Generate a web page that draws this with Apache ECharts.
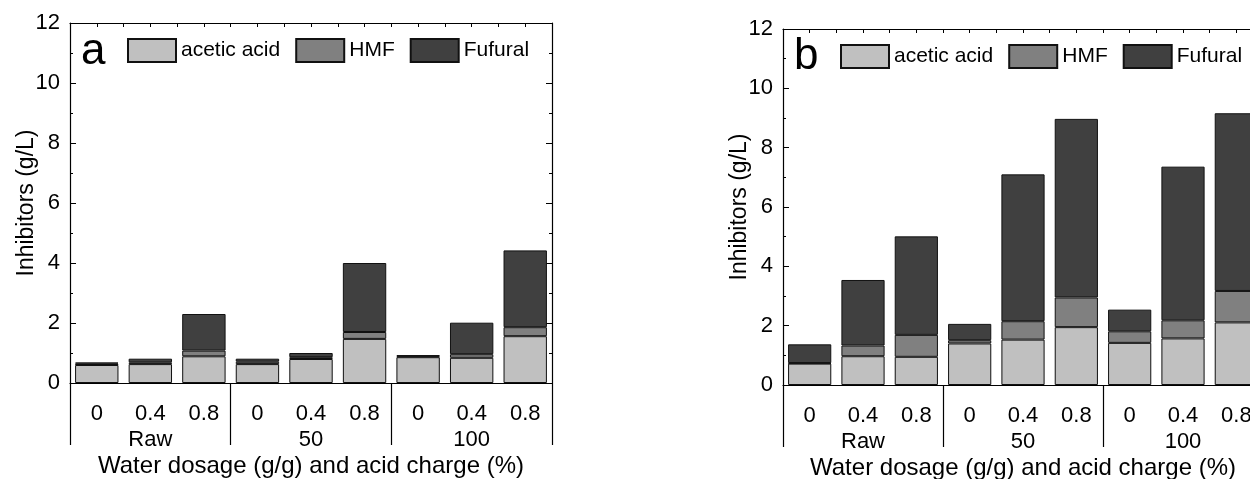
<!DOCTYPE html>
<html>
<head>
<meta charset="utf-8">
<script src="https://cdn.jsdelivr.net/npm/echarts@6/dist/echarts.min.js"></script>
<style>
  html, body { margin: 0; padding: 0; background: #fff; }
  #main { width: 1250px; height: 479px; }
</style>
</head>
<body>
<div id="main"></div>
<script>
// category labels (acid charge %) and groups (water dosage)
var tickLabels = ['0', '0.4', '0.8', '0', '0.4', '0.8', '0', '0.4', '0.8'];
var groupLabels = ['Raw', '50', '100'];
var yTicks = [0, 12, 2];

// panel a (g/L)
var aceticA = [0.60, 0.63, 0.89, 0.63, 0.80, 1.47, 0.86, 0.84, 1.56];
var hmfA = [0.05, 0.06, 0.19, 0.08, 0.06, 0.23, 0.03, 0.12, 0.30];
var fufuralA = [0.03, 0.12, 1.22, 0.10, 0.14, 2.30, 0.04, 1.05, 2.56];

// panel b (g/L)
var aceticB = [0.72, 0.97, 0.95, 1.40, 1.53, 1.95, 1.42, 1.57, 2.11];
var hmfB = [0.02, 0.36, 0.74, 0.11, 0.62, 1.00, 0.39, 0.61, 1.06];
var fufuralB = [0.63, 2.21, 3.32, 0.55, 4.95, 6.02, 0.73, 5.18, 5.99];

var FONT = 'Liberation Sans, Arial, sans-serif';
var colors = ['#c0c0c0', '#808080', '#404040'];
var names = ['acetic acid', 'HMF', 'Fufural'];

var myChart = echarts.init(document.getElementById('main'));

// panel b runs past the right edge of the picture, as in the original
var grids = [
  { left: 70, top: 23, width: 482, height: 360, outerBoundsMode: 'none', containLabel: false },
  { left: 783, top: 29, width: 480, height: 356, outerBoundsMode: 'none', containLabel: false }
];

function axesFor(g) {
  var xs = [
    // main category axis
    {
      gridIndex: g, type: 'category', position: 'bottom', data: tickLabels,
      axisLine: { lineStyle: { color: '#000', width: 1.2 } },
      axisTick: { alignWithLabel: true, inside: false, length: 6, lineStyle: { color: '#000' } },
      axisLabel: { color: '#000', fontSize: 22, fontFamily: FONT, margin: 20, interval: 0 }
    },
    // group axis with separators
    {
      gridIndex: g, type: 'category', position: 'bottom', data: groupLabels,
      axisLine: { show: false },
      axisTick: { show: true, inside: false, length: 62, interval: 0, lineStyle: { color: '#000', width: 1.2 } },
      axisLabel: { color: '#000', fontSize: 22, fontFamily: FONT, margin: 46, interval: 0 },
      name: 'Water dosage (g/g) and acid charge (%)', nameLocation: 'middle', nameGap: 71,
      nameMoveOverlap: false,
      nameTextStyle: { color: '#000', fontSize: 24, fontFamily: FONT }
    },
    // top frame with small ticks
    {
      gridIndex: g, type: 'value', position: 'top', min: 0, max: 9, interval: 0.5,
      axisLine: { show: true, lineStyle: { color: '#000', width: 1.2 } },
      axisTick: { show: true, inside: true, length: 4, lineStyle: { color: '#000' } },
      axisLabel: { show: false }, splitLine: { show: false }
    }
  ];
  var ys = [
    {
      gridIndex: g, type: 'value', position: 'left', min: yTicks[0], max: yTicks[1], interval: yTicks[2],
      axisLine: { show: true, lineStyle: { color: '#000', width: 1.2 } },
      axisTick: { show: true, inside: true, length: 6, lineStyle: { color: '#000' } },
      minorTick: { show: true, splitNumber: 2, length: 3, lineStyle: { color: '#000' } },
      axisLabel: { color: '#000', fontSize: 22, fontFamily: FONT, margin: 10 },
      splitLine: { show: false },
      name: 'Inhibitors (g/L)', nameLocation: 'middle', nameGap: 32,
      nameMoveOverlap: false,
      nameTextStyle: { color: '#000', fontSize: 23, fontFamily: FONT }
    },
    {
      gridIndex: g, type: 'value', position: 'right', min: yTicks[0], max: yTicks[1], interval: yTicks[2],
      axisLine: { show: true, lineStyle: { color: '#000', width: 1.2 } },
      axisTick: { show: true, inside: true, length: 6, lineStyle: { color: '#000' } },
      minorTick: { show: true, splitNumber: 2, length: 3, lineStyle: { color: '#000' } },
      axisLabel: { show: false }, splitLine: { show: false }
    }
  ];
  return { xs: xs, ys: ys };
}

var ax0 = axesFor(0), ax1 = axesFor(1);

function seriesFor(g, arrs) {
  return arrs.map(function (d, i) {
    return {
      name: names[i], type: 'bar', stack: 'p' + g,
      xAxisIndex: g * 3, yAxisIndex: g * 2,
      barWidth: '81%', data: d,
      itemStyle: { color: colors[i], borderColor: '#111', borderWidth: 1 },
      emphasis: { disabled: true }
    };
  });
}

function legendFor(left, top) {
  return {
    left: left, top: top, width: 460, itemWidth: 48, itemHeight: 23, itemGap: 15,
    orient: 'horizontal', icon: 'rect', selectedMode: false, padding: 0,
    textStyle: { color: '#000', fontSize: 21, fontFamily: FONT },
    data: names
  };
}

var option = {
  animation: false,
  backgroundColor: '#fff',
  title: [
    { text: 'a', left: 81, top: 30, padding: 0, textStyle: { fontSize: 44, fontWeight: 'normal', color: '#000', fontFamily: FONT } },
    { text: 'b', left: 794, top: 35, padding: 0, textStyle: { fontSize: 44, fontWeight: 'normal', color: '#000', fontFamily: FONT } }
  ],
  legend: [legendFor(127, 38), legendFor(840, 44)],
  grid: grids,
  xAxis: ax0.xs.concat(ax1.xs),
  yAxis: ax0.ys.concat(ax1.ys),
  series: seriesFor(0, [aceticA, hmfA, fufuralA]).concat(seriesFor(1, [aceticB, hmfB, fufuralB]))
};
myChart.setOption(option);
</script>
</body>
</html>
